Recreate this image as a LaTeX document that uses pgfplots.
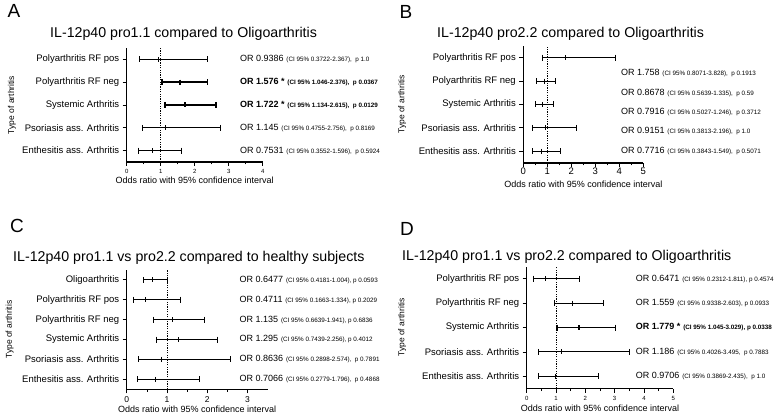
\documentclass[border=0pt]{standalone}
\usepackage{pgfplots}
\pgfplotsset{compat=1.18}
\usepackage{fontspec}
\setmainfont{Liberation Sans}
\newcommand{\ann}[2]{{\fontsize{9}{10}\selectfont OR #1} {\fontsize{6.3}{7}\selectfont #2}}
\newcommand{\ci}[5][0.9pt]{%
 \addplot[black, line width=#1, mark=|, mark size=3pt] coordinates {(#3,#2) (#4,#2)};
 \addplot[black, line width=#1, only marks, mark=|, mark size=2.5pt] coordinates {(#5,#2)};}
\pgfplotsset{forest/.style={scale only axis, anchor=south west,
  axis x line*=bottom, axis y line*=left, axis line style={line width=1.2pt},
  tick align=outside, major tick length=4pt, minor tick length=2.5pt,
  tick style={black, line width=0.8pt}, minor tick style={black, line width=0.6pt},
  minor x tick num=1, clip=false, enlargelimits=false, xmin=0, ymin=0.5,
  /pgf/number format/assume math mode=true,
  yticklabel style={font=\fontsize{9.5}{11}\selectfont},
  ytick={1,2,3,4,5}}}
\begin{document}
\begin{tikzpicture}
\path[use as bounding box] (0,0) rectangle (778pt,415pt);
% panel letters and titles
\node[font=\fontsize{19}{20}\selectfont] at (14pt,404pt) {A};
\node[font=\fontsize{19}{20}\selectfont] at (406pt,403pt) {B};
\node[font=\fontsize{19}{20}\selectfont] at (17pt,189pt) {C};
\node[font=\fontsize{19}{20}\selectfont] at (407pt,186pt) {D};
\node[anchor=base west, inner sep=0pt, font=\fontsize{14.2}{16}\selectfont] at (50pt,377pt) {IL-12p40 pro1.1 compared to Oligoarthritis};
\node[anchor=base west, inner sep=0pt, font=\fontsize{14.2}{16}\selectfont] at (437pt,377pt) {IL-12p40 pro2.2 compared to Oligoarthritis};
\node[anchor=base west, inner sep=0pt, font=\fontsize{14.2}{16}\selectfont] at (13pt,153pt) {IL-12p40 pro1.1 vs pro2.2 compared to healthy subjects};
\node[anchor=base west, inner sep=0pt, font=\fontsize{14.2}{16}\selectfont] at (402pt,154pt) {IL-12p40 pro1.1 vs pro2.2 compared to Oligoarthritis};

% ---------------- A ----------------
\begin{axis}[forest, at={(126.7pt,253pt)}, width=136pt, height=114pt,
  xmax=4, ymax=5.5, xtick={0,1,2,3,4},
  xticklabel style={font=\fontsize{6}{7}\selectfont},
  yticklabels={Enthesitis ass. Arthritis, Psoriasis ass. Arthritis, Systemic Arthritis, Polyarthritis RF neg, Polyarthritis RF pos}]
\addplot[black, line width=0.9pt, dash pattern=on 1.2pt off 1.2pt] coordinates {(1,0.5) (1,5.5)};
\ci{5}{0.3722}{2.367}{0.9386}
\ci[1.8pt]{4}{1.046}{2.376}{1.576}
\ci[1.8pt]{3}{1.134}{2.615}{1.722}
\ci{2}{0.4755}{2.756}{1.145}
\ci{1}{0.3552}{1.596}{0.7531}
\node[anchor=west, inner sep=0pt] at (axis cs:3.33,5) {\ann{0.9386}{(CI 95\% 0.3722-2.367),\ \ p 1.0}};
\node[anchor=west, inner sep=0pt] at (axis cs:3.33,4) {\bfseries\ann{1.576 *}{(CI 95\% 1.046-2.376),\ \ p 0.0367}};
\node[anchor=west, inner sep=0pt] at (axis cs:3.33,3) {\bfseries\ann{1.722 *}{(CI 95\% 1.134-2.615),\ \ p 0.0129}};
\node[anchor=west, inner sep=0pt] at (axis cs:3.33,2) {\ann{1.145}{(CI 95\% 0.4755-2.756),\ \ p 0.8169}};
\node[anchor=west, inner sep=0pt] at (axis cs:3.33,1) {\ann{0.7531}{(CI 95\% 0.3552-1.596),\ \ p 0.5924}};
\node[anchor=north, inner sep=0pt, font=\fontsize{9}{10}\selectfont] at (rel axis cs:0.5,0) [yshift=-15pt] {Odds ratio with 95\% confidence interval};
\node[rotate=90, inner sep=0pt, font=\fontsize{8.5}{10}\selectfont] at (rel axis cs:-0.843,0.5) {Type of arthritis};
\end{axis}

% ---------------- B ----------------
\begin{axis}[forest, at={(523.3pt,252pt)}, width=120pt, height=117pt,
  xmax=5, ymax=5.5, xtick={0,1,2,3,4,5},
  xticklabel style={font=\fontsize{9.5}{11}\selectfont, inner sep=1pt},
  yticklabels={Enthesitis ass. Arthritis, Psoriasis ass. Arthritis, Systemic Arthritis, Polyarthritis RF neg, Polyarthritis RF pos}]
\addplot[black, line width=0.9pt, dash pattern=on 1.2pt off 1.2pt] coordinates {(1,0.5) (1,5.5)};
\ci{5}{0.8071}{3.828}{1.758}
\ci{4}{0.5639}{1.335}{0.8678}
\ci{3}{0.5027}{1.246}{0.7916}
\ci{2}{0.3813}{2.196}{0.9151}
\ci{1}{0.3843}{1.549}{0.7716}
\node[anchor=west, inner sep=0pt] at (axis cs:4.07,4.36) {\ann{1.758}{(CI 95\% 0.8071-3.828),\ \ p 0.1913}};
\node[anchor=west, inner sep=0pt] at (axis cs:4.07,3.5) {\ann{0.8678}{(CI 95\% 0.5639-1.335),\ \ p 0.59}};
\node[anchor=west, inner sep=0pt] at (axis cs:4.07,2.7) {\ann{0.7916}{(CI 95\% 0.5027-1.246),\ \ p 0.3712}};
\node[anchor=west, inner sep=0pt] at (axis cs:4.07,1.86) {\ann{0.9151}{(CI 95\% 0.3813-2.196),\ \ p 1.0}};
\node[anchor=west, inner sep=0pt] at (axis cs:4.07,1.0) {\ann{0.7716}{(CI 95\% 0.3843-1.549),\ \ p 0.5071}};
\node[anchor=north, inner sep=0pt, font=\fontsize{9}{10}\selectfont] at (rel axis cs:0.5,0) [yshift=-17.5pt] {Odds ratio with 95\% confidence interval};
\node[rotate=90, inner sep=0pt, font=\fontsize{8.5}{10}\selectfont] at (rel axis cs:-1.01,0.5) {Type of arthritis};
\end{axis}

% ---------------- C ----------------
\begin{axis}[forest, at={(126.7pt,25.7pt)}, width=141pt, height=119.5pt,
  xmax=3.5, ymax=6.5, xtick={0,1,2,3}, ytick={1,2,3,4,5,6},
  xticklabel style={font=\fontsize{8.5}{10}\selectfont},
  yticklabels={Enthesitis ass. Arthritis, Psoriasis ass. Arthritis, Systemic Arthritis, Polyarthritis RF neg, Polyarthritis RF pos, Oligoarthritis}]
\addplot[black, line width=0.9pt, dash pattern=on 1.2pt off 1.2pt] coordinates {(1,0.5) (1,6.5)};
\ci{6}{0.4181}{1.004}{0.6477}
\ci{5}{0.1663}{1.334}{0.4711}
\ci{4}{0.6639}{1.941}{1.135}
\ci{3}{0.7439}{2.256}{1.295}
\ci{2}{0.2898}{2.574}{0.8636}
\ci{1}{0.2779}{1.796}{0.7066}
\node[anchor=west, inner sep=0pt] at (axis cs:2.8,6) {\ann{0.6477}{(CI 95\% 0.4181-1.004), p 0.0593}};
\node[anchor=west, inner sep=0pt] at (axis cs:2.8,5) {\ann{0.4711}{(CI 95\% 0.1663-1.334), p 0.2029}};
\node[anchor=west, inner sep=0pt] at (axis cs:2.8,4) {\ann{1.135}{(CI 95\% 0.6639-1.941), p 0.6836}};
\node[anchor=west, inner sep=0pt] at (axis cs:2.8,3) {\ann{1.295}{(CI 95\% 0.7439-2.256), p 0.4012}};
\node[anchor=west, inner sep=0pt] at (axis cs:2.8,2) {\ann{0.8636}{(CI 95\% 0.2898-2.574),\ \ p 0.7891}};
\node[anchor=west, inner sep=0pt] at (axis cs:2.8,1) {\ann{0.7066}{(CI 95\% 0.2779-1.796),\ \ p 0.4868}};
\node[anchor=north, inner sep=0pt, font=\fontsize{9}{10}\selectfont] at (rel axis cs:0.5,0) [yshift=-16pt] {Odds ratio with 95\% confidence interval};
\node[rotate=90, inner sep=0pt, font=\fontsize{8.5}{10}\selectfont] at (rel axis cs:-0.83,0.5) {Type of arthritis};
\end{axis}

% ---------------- D ----------------
\begin{axis}[forest, at={(526.7pt,26.5pt)}, width=146.6pt, height=122pt,
  xmax=5, ymax=5.5, xtick={0,1,2,3,4,5},
  xticklabel style={font=\fontsize{6}{7}\selectfont},
  yticklabels={Enthesitis ass. Arthritis, Psoriasis ass. Arthritis, Systemic Arthritis, Polyarthritis RF neg, Polyarthritis RF pos}]
\addplot[black, line width=0.9pt, dash pattern=on 1.2pt off 1.2pt] coordinates {(1,0.5) (1,5.5)};
\ci{5}{0.2312}{1.811}{0.6471}
\ci{4}{0.9338}{2.603}{1.559}
\ci[1.8pt]{3}{1.045}{3.029}{1.779}
\ci{2}{0.4026}{3.495}{1.186}
\ci{1}{0.3869}{2.435}{0.9706}
\node[anchor=west, inner sep=0pt] at (axis cs:3.72,5) {\ann{0.6471}{(CI 95\% 0.2312-1.811), p 0.4574}};
\node[anchor=west, inner sep=0pt] at (axis cs:3.72,4) {\ann{1.559}{(CI 95\% 0.9338-2.603), p 0.0933}};
\node[anchor=west, inner sep=0pt] at (axis cs:3.72,3) {\bfseries\ann{1.779 *}{(CI 95\% 1.045-3.029), p 0.0338}};
\node[anchor=west, inner sep=0pt] at (axis cs:3.72,2) {\ann{1.186}{(CI 95\% 0.4026-3.495,\ \ p 0.7883}};
\node[anchor=west, inner sep=0pt] at (axis cs:3.72,1) {\ann{0.9706}{(CI 95\% 0.3869-2.435),\ \ p 1.0}};
\node[anchor=north, inner sep=0pt, font=\fontsize{9}{10}\selectfont] at (rel axis cs:0.5,0) [yshift=-16pt] {Odds ratio with 95\% confidence interval};
\node[rotate=90, inner sep=0pt, font=\fontsize{8.5}{10}\selectfont] at (rel axis cs:-0.85,0.5) {Type of arthritis};
\end{axis}
\end{tikzpicture}
\end{document}
